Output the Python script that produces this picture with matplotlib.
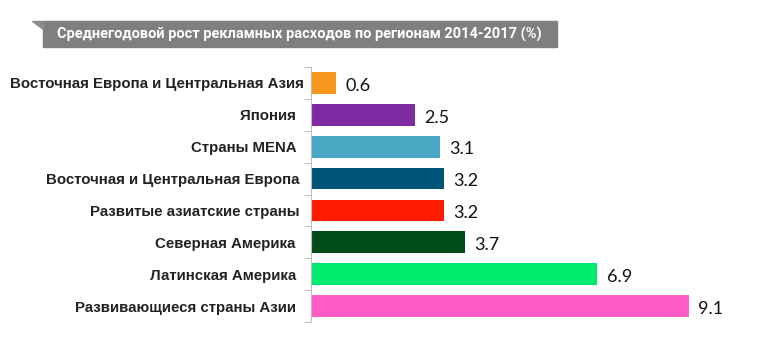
import matplotlib.pyplot as plt
from matplotlib.patches import Rectangle, Polygon

# data
regions = [
    "Восточная Европа и Центральная Азия",
    "Япония  ",
    "Страны MENA  ",
    "Восточная и Центральная Европа ",
    "Развитые азиатские страны ",
    "Северная Америка  ",
    "Латинская Америка  ",
    "Развивающиеся страны Азии  ",
]
growth = [0.6, 2.5, 3.1, 3.2, 3.2, 3.7, 6.9, 9.1]
colors = ["#f7971e", "#7e2ba3", "#4aa7c4", "#005478", "#ff1a00",
          "#004b18", "#00ea6e", "#ff5cc6"]
title = "Среднегодовой рост рекламных расходов по регионам 2014-2017 (%)"

W, H = 774, 339
fig = plt.figure(figsize=(W / 100, H / 100), dpi=100)
ax = fig.add_axes([311 / W, (H - 322) / H, 415 / W, 255 / H])

ypos = list(range(len(regions)))
ax.barh(ypos, growth, height=0.68, color=colors)
ax.set_xlim(0, 10)
ax.set_ylim(len(regions) - 0.5, -0.5)

# value labels
for y, v in zip(ypos, growth):
    ax.annotate(f"{v}", (v, y), xytext=(7, -2), textcoords="offset points",
                va="center", ha="left", fontsize=13, family="Lato",
                color="#111111")

# ticks at category boundaries, labels at centres
ax.set_yticks([i - 0.5 for i in range(len(regions) + 1)])
ax.set_yticklabels([])
ax.set_yticks(ypos, minor=True)
ax.set_yticklabels(regions, minor=True, fontsize=10.8, fontweight="bold",
                   family="Liberation Sans", color="#222222")
ax.tick_params(axis="y", which="major", length=5, color="#bfbfbf")
ax.tick_params(axis="y", which="minor", length=0, pad=5)
ax.set_xticks([])
for s in ["top", "right", "bottom"]:
    ax.spines[s].set_visible(False)
ax.spines["left"].set_color("#bfbfbf")

# title banner
fig.patches.append(Rectangle((43 / W, 1 - 47 / H), (557 - 43) / W, 26 / H,
                             transform=fig.transFigure, color="#7f7f7f"))
fig.patches.append(Polygon([(32 / W, 1 - 21 / H), (43 / W, 1 - 21 / H),
                            (43 / W, 1 - 29 / H)], closed=True,
                           transform=fig.transFigure, color="#8c8c8c"))
fig.text(57 / W, 1 - 34 / H, title, color="white", fontsize=10.55,
         fontweight="bold", family="Roboto", va="center", ha="left")

plt.savefig("out.png", dpi=100)
